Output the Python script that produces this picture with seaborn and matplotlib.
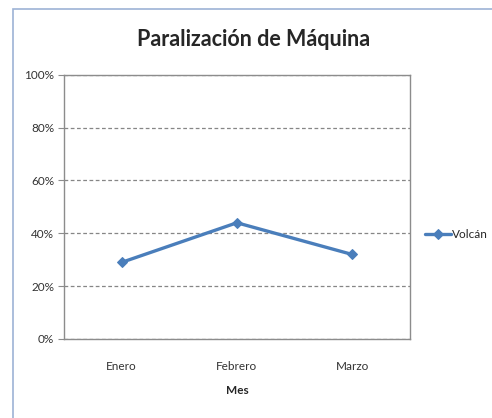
import pandas as pd
import matplotlib.pyplot as plt
import seaborn as sns
from matplotlib.patches import Rectangle
from matplotlib.ticker import PercentFormatter

meses = ["Enero", "Febrero", "Marzo"]
volcan = [0.29, 0.44, 0.32]
serie = "Volcán"

df = pd.DataFrame({"Mes": meses, "valor": volcan})

sns.set_style("white")
plt.rcParams["font.family"] = ["Lato", "DejaVu Sans"]

fig = plt.figure(figsize=(4.92, 4.18), dpi=100)
ax = fig.add_axes([0.130, 0.189, 0.703, 0.632])

# chart border (light blue, as in the spreadsheet screenshot)
fig.add_artist(Rectangle((13 / 492, -0.1), 1.2, 1.1 - 9 / 418,
                         transform=fig.transFigure, fill=False,
                         edgecolor="#9db3d6", linewidth=1.2))

sns.lineplot(data=df, x="Mes", y="valor", sort=False, ax=ax,
             color="#4a7ebb", linewidth=2.4, marker="D", markersize=5.5,
             markeredgecolor="#4a7ebb", label=serie)

ax.set_xlim(-0.5, 2.5)
ax.set_ylim(0, 1)
ax.set_yticks([0, 0.2, 0.4, 0.6, 0.8, 1.0])
ax.yaxis.set_major_formatter(PercentFormatter(1.0, decimals=0))
ax.grid(axis="y", linestyle=(0, (3, 2)), color="#868686", linewidth=0.9)
ax.set_axisbelow(True)
for s in ax.spines.values():
    s.set_visible(True)
    s.set_color("#8c8c8c")
    s.set_linewidth(1.0)

ax.tick_params(axis="y", which="major", left=True, length=4, color="#8c8c8c",
               labelsize=8.5, pad=3, labelcolor="#333333")
ax.tick_params(axis="x", bottom=False, labelsize=8.5, pad=12,
               labelcolor="#333333")

fig.text(254 / 492, 1 - 40 / 418, "Paralización de Máquina", fontsize=15.5,
         fontweight="bold", ha="center", va="center")
ax.set_xlabel("Mes", fontsize=8.5, fontweight="bold", labelpad=10)
ax.set_ylabel("")

ax.legend(loc="center left", bbox_to_anchor=(1.03, 0.395), frameon=False,
          fontsize=8.5, handlelength=2.2, handletextpad=0.1, borderaxespad=0)

fig.savefig("out.png", dpi=100)
